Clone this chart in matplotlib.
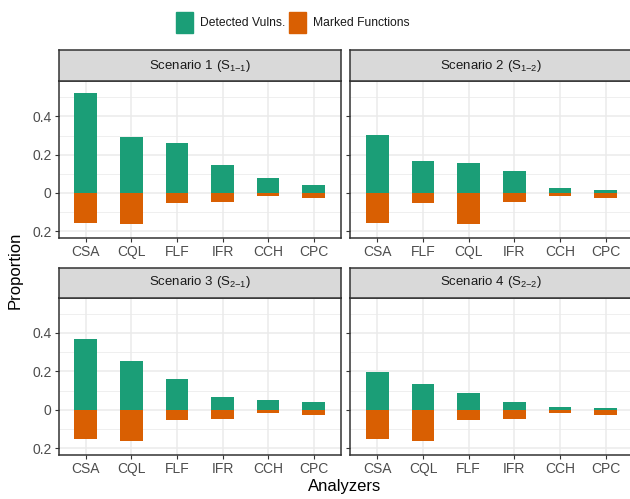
import matplotlib
matplotlib.use("Agg")
import matplotlib.pyplot as plt
from matplotlib.patches import Rectangle

plt.rcParams["font.family"] = ["Liberation Sans", "DejaVu Sans"]
plt.rcParams["mathtext.fontset"] = "custom"
plt.rcParams["mathtext.rm"] = "Liberation Sans"
plt.rcParams["mathtext.it"] = "Liberation Sans"
plt.rcParams["mathtext.default"] = "rm"

# data
titles = [
    "Scenario 1 (S$_{1\\text{\u2212}1}$)",
    "Scenario 2 (S$_{1\\text{\u2212}2}$)",
    "Scenario 3 (S$_{2\\text{\u2212}1}$)",
    "Scenario 4 (S$_{2\\text{\u2212}2}$)",
]
analyzers = [
    ["CSA", "CQL", "FLF", "IFR", "CCH", "CPC"],
    ["CSA", "FLF", "CQL", "IFR", "CCH", "CPC"],
    ["CSA", "CQL", "FLF", "IFR", "CCH", "CPC"],
    ["CSA", "CQL", "FLF", "IFR", "CCH", "CPC"],
]
detected = [
    [0.524, 0.290, 0.259, 0.144, 0.077, 0.040],
    [0.301, 0.165, 0.155, 0.113, 0.025, 0.014],
    [0.367, 0.252, 0.162, 0.068, 0.052, 0.042],
    [0.199, 0.136, 0.089, 0.042, 0.016, 0.010],
]
marked = {"CSA": 0.155, "CQL": 0.162, "FLF": 0.052, "IFR": 0.047, "CCH": 0.016, "CPC": 0.026}

green = "#1B9E77"
orange = "#D95F02"
W, H = 630, 499

fig = plt.figure(figsize=(W / 100, H / 100), dpi=100)


def px(x0, y0, x1, y1):
    return [x0 / W, 1 - y1 / H, (x1 - x0) / W, (y1 - y0) / H]


cols = [(58.5, 341), (350, 633)]
rows = [(50, 81, 238), (267.5, 297.5, 455)]

for i in range(4):
    r, c = divmod(i, 2)
    x0, x1 = cols[c]
    ys, yp, yb = rows[r]

    ax = fig.add_axes(px(x0, yp, x1, yb))
    names = analyzers[i]
    xs = range(len(names))
    ax.bar(xs, detected[i], width=0.5, color=green, zorder=3)
    ax.bar(xs, [-marked[n] for n in names], width=0.5, color=orange, zorder=3)
    ax.set_xlim(-0.6, len(names) - 0.4)
    ax.set_ylim(-0.236, 0.585)
    ax.set_xticks(list(xs))
    ax.set_xticklabels(names)
    ax.set_yticks([-0.2, 0, 0.2, 0.4])
    ax.set_yticks([-0.1, 0.1, 0.3, 0.5], minor=True)
    if c == 0:
        ax.set_yticklabels(["0.2", "0", "0.2", "0.4"])
    else:
        ax.set_yticklabels([])
        ax.tick_params(axis="y", length=0)
    ax.tick_params(which="minor", length=0)
    ax.tick_params(axis="both", colors="#333333", labelcolor="#4D4D4D",
                   labelsize=10, length=3, width=0.8, pad=2)
    ax.grid(True, which="major", color="#EBEBEB", lw=1.1, zorder=0)
    ax.grid(True, which="minor", color="#EBEBEB", lw=0.55, zorder=0)
    ax.set_axisbelow(True)
    for s in ax.spines.values():
        s.set_color("#333333")
        s.set_linewidth(1.1)

    sax = fig.add_axes(px(x0, ys, x1, yp))
    sax.set_facecolor("#D9D9D9")
    sax.set_xticks([])
    sax.set_yticks([])
    for s in sax.spines.values():
        s.set_color("#333333")
        s.set_linewidth(1.1)
    sax.text(0.5, 0.5, titles[i], ha="center", va="center", fontsize=9.5,
             color="#1A1A1A", transform=sax.transAxes)

fig.text(15 / W, 1 - 270 / H, "Proportion", rotation=90, ha="center",
         va="center", fontsize=12)
fig.text(345 / W, 1 - 487 / H, "Analyzers", ha="center", va="center",
         fontsize=12)

# legend
for x, label, col in [(176, "Detected Vulns.", green), (289, "Marked Functions", orange)]:
    fig.patches.append(Rectangle((x / W, 1 - 32.5 / H), 17 / W, 20.5 / H,
                                 transform=fig.transFigure, color=col))
    fig.text((x + 24) / W, 1 - 22.5 / H, label, ha="left", va="center",
             fontsize=8.7, color="#1A1A1A")

fig.savefig("out.png", dpi=100)
